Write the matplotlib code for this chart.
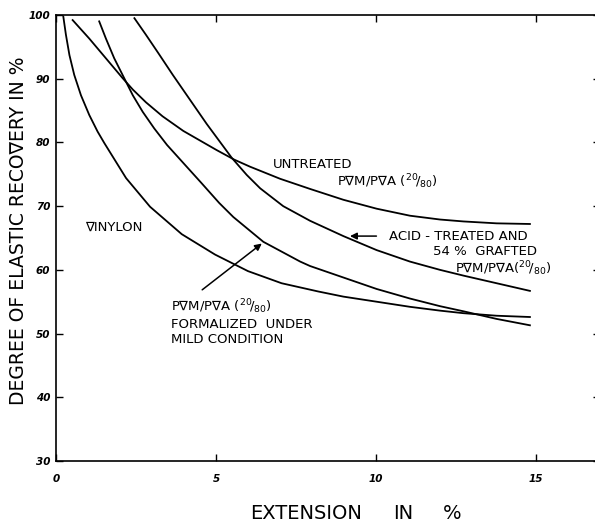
import numpy as np
import matplotlib.pyplot as plt

# elastic recovery curves
vinylon_x = [0.23, 0.31, 0.42, 0.57, 0.78, 1.04, 1.30, 1.51, 2.19, 2.94, 3.93, 4.97, 6.0, 7.05,
             8.2, 8.98, 10.02, 11.06, 12.0, 12.73, 13.77, 14.81]
vinylon_y = [99.7, 96.9, 93.7, 90.6, 87.4, 84.3, 81.7, 79.9, 74.4, 69.9, 65.6, 62.4, 59.8, 57.9,
             56.6, 55.8, 55.0, 54.2, 53.6, 53.2, 52.8, 52.6]

untreated_x = [0.52, 1.04, 1.56, 2.08, 2.40, 2.81, 3.33, 3.98, 5.02, 5.57, 6.06, 7.0, 7.94,
               8.98, 10.02, 11.06, 12.0, 12.73, 13.77, 14.81]
untreated_y = [99.2, 96.3, 93.2, 90.1, 88.3, 86.3, 84.1, 81.8, 78.8, 77.3, 76.2, 74.3, 72.7,
               71.0, 69.6, 68.5, 67.9, 67.6, 67.3, 67.2]

formal_x = [1.35, 1.56, 1.82, 2.08, 2.40, 2.71, 3.07, 3.47, 4.19, 4.55, 5.10, 5.54, 6.48, 7.63,
            7.94, 8.98, 10.02, 11.06, 12.0, 12.73, 13.77, 14.81]
formal_y = [99.0, 96.3, 93.2, 90.6, 87.4, 84.8, 82.2, 79.6, 75.6, 73.6, 70.5, 68.3, 64.4, 61.3,
            60.6, 58.8, 57.0, 55.5, 54.3, 53.5, 52.3, 51.3]

acid_x = [2.45, 2.81, 3.20, 3.65, 3.98, 4.71, 5.49, 5.96, 6.38, 7.1, 7.94, 8.98, 10.02, 11.06,
          12.0, 12.73, 13.77, 14.81]
acid_y = [99.5, 96.9, 94.0, 90.6, 88.2, 82.9, 77.6, 74.9, 72.8, 70.0, 67.7, 65.3, 63.1, 61.3,
          60.0, 59.1, 57.9, 56.7]

xticks = [0, 5, 10, 15]
yticks = [30, 40, 50, 60, 70, 80, 90, 100]

ratio = r'($^{20}\!/_{80}$)'

fig = plt.figure(figsize=(5.95, 5.22), dpi=100)
ax = fig.add_axes([56 / 595, 1 - 461 / 522, 17 * 32 / 595, 446 / 522])

for xs, ys in [(vinylon_x, vinylon_y), (untreated_x, untreated_y),
               (formal_x, formal_y), (acid_x, acid_y)]:
    ax.plot(xs, ys, color='black', lw=1.3)

ax.set_xlim(0, 17)
ax.set_ylim(30, 100)
ax.set_xticks(xticks)
ax.set_yticks(yticks)
tick_font = dict(fontsize=7.5, fontweight='bold', fontstyle='italic')
ax.set_xticklabels([str(t) for t in xticks], **tick_font)
ax.set_yticklabels([str(t) for t in yticks], **tick_font)
ax.tick_params(axis='x', direction='in', length=5, width=1, top=True, pad=9)
ax.tick_params(axis='y', direction='in', length=5, width=1, right=True, pad=4)
for s in ax.spines.values():
    s.set_linewidth(1.2)

ax.set_ylabel('DEGREE OF ELASTIC RECO\u2207ERY IN %', fontsize=13.5)
ax.yaxis.set_label_coords(-0.052, 0.516)

# x label pieces are widely spaced in the original
xl = dict(fontsize=14, va='center', ha='left', clip_on=False)
ax.text(6.06, 21.7, 'EXTENSION', **xl)
ax.text(10.53, 21.7, 'IN', **xl)
ax.text(12.09, 21.7, '%', **xl)

txt = dict(fontsize=9.5, color='black', va='baseline', ha='left')
ax.text(6.78, 76.0, 'UNTREATED', **txt)
ax.text(8.78, 73.2, 'P\u2207M/P\u2207A ' + ratio, **txt)
ax.text(10.4, 64.7, 'ACID - TREATED AND', **txt)
ax.text(11.78, 62.3, '54 %  GRAFTED', **txt)
ax.text(12.47, 59.5, 'P\u2207M/P\u2207A' + ratio, **txt)
ax.text(0.9, 66.2, '\u2207INYLON', **txt)
ax.text(3.6, 53.5, 'P\u2207M/P\u2207A ' + ratio, **txt)
ax.text(3.6, 50.9, 'FORMALIZED  UNDER', **txt)
ax.text(3.6, 48.5, 'MILD CONDITION', **txt)

arrow = dict(arrowstyle='-|>', color='black', lw=1.1, mutation_scale=10)
ax.annotate('', xy=(9.1, 65.3), xytext=(10.1, 65.3), arrowprops=arrow)
ax.annotate('', xy=(6.5, 64.4), xytext=(4.5, 56.6), arrowprops=arrow)

fig.savefig('out.png', dpi=100)
